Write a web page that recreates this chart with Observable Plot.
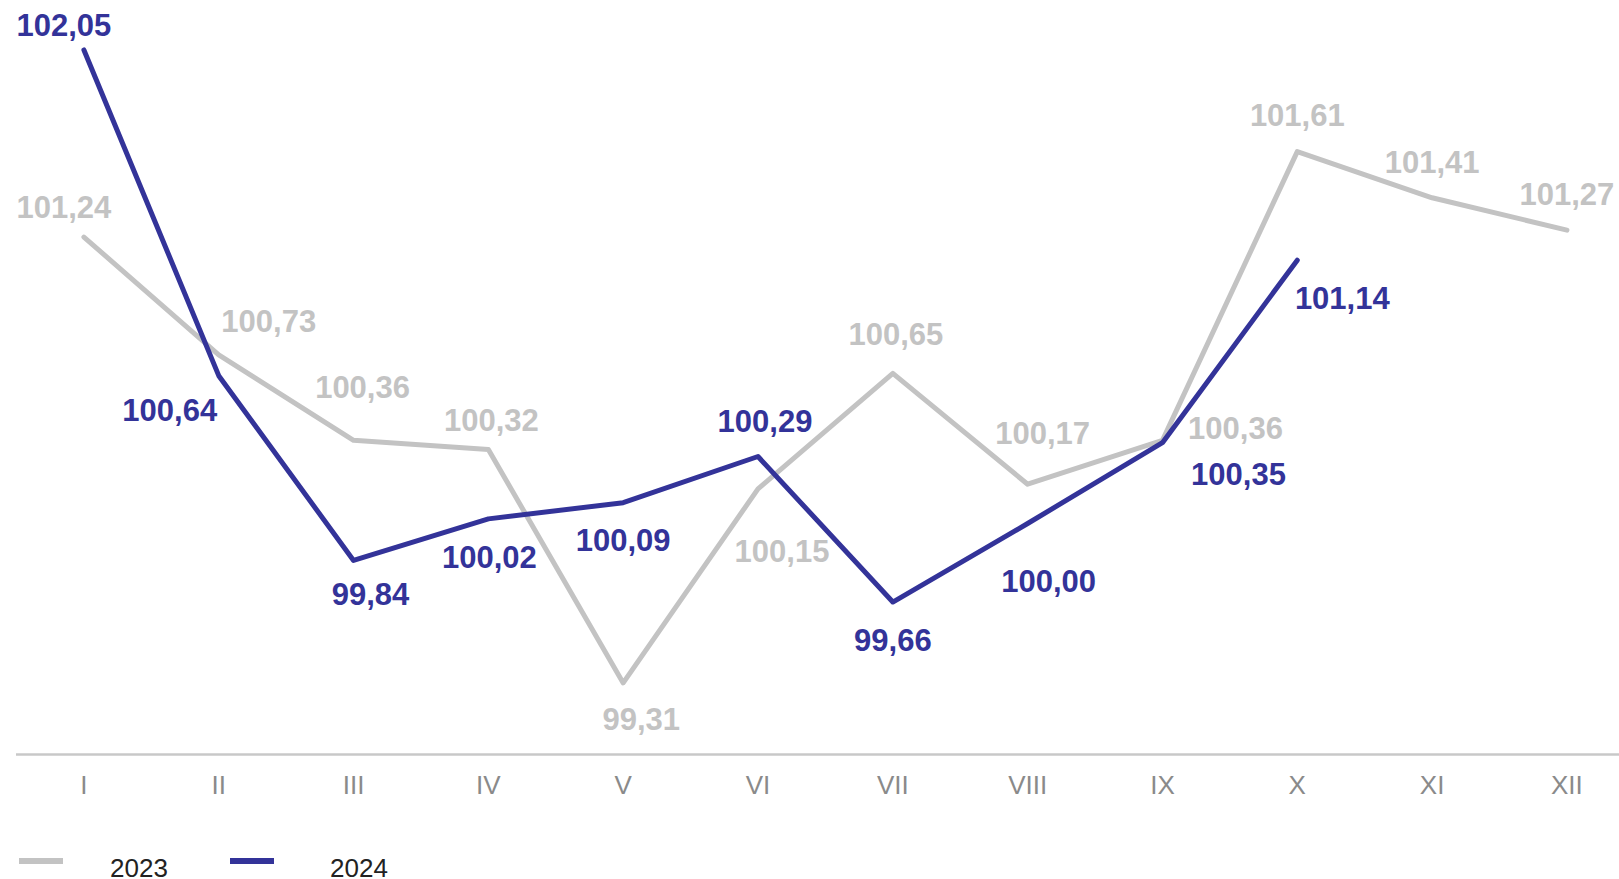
<!DOCTYPE html>
<html>
<head>
<meta charset="utf-8">
<script src="https://cdn.jsdelivr.net/npm/d3@7"></script>
<script src="https://cdn.jsdelivr.net/npm/@observablehq/plot@0.6"></script>
<style>
  html, body { margin: 0; padding: 0; background: #fff; }
  body { font-family: "Liberation Sans", Arial, sans-serif; }
  #wrap { position: relative; width: 1619px; height: 879px; overflow: hidden; }
  #chart svg { display: block; }
  .legend-swatch { position: absolute; height: 6px; width: 44px; }
  .legend-text { position: absolute; font-size: 26px; color: #222; line-height: 26px; }
</style>
</head>
<body>
<div id="wrap">
  <div id="chart"></div>
  <div class="legend-swatch" style="left:19px; top:858px; background:#c3c3c3;"></div>
  <div class="legend-text" style="left:110px; top:855px;">2023</div>
  <div class="legend-swatch" style="left:230px; top:858px; background:#333399;"></div>
  <div class="legend-text" style="left:330px; top:855px;">2024</div>
</div>
<script>
const months = ["I","II","III","IV","V","VI","VII","VIII","IX","X","XI","XII"];
const values2023 = [101.24, 100.73, 100.36, 100.32, 99.31, 100.15, 100.65, 100.17, 100.36, 101.61, 101.41, 101.27];
const values2024 = [102.05, 100.64, 99.84, 100.02, 100.09, 100.29, 99.66, 100.00, 100.35, 101.14];

// label offsets (px) relative to each point
const labelDx2023 = [-20, 50, 9, 3, 18, 24, 3, 15, 73, 0, 0, 0];
const labelDy2023 = [-29, -33, -52, -28, 37, 63, -38, -50, -11, -35, -35, -35];
const labelDx2024 = [-20, -49, 17, 1, 0, 7, 0, 21, 76, 45];
const labelDy2024 = [-24, 35, 35, 39, 38, -34, 39, 59, 32, 39];

const gray = "#c3c3c3";
const blue = "#333399";

const s2023 = values2023.map((v, i) => ({i, v}));
const s2024 = values2024.map((v, i) => ({i, v}));
const fmt = v => v.toFixed(2).replace(".", ",");

const labelMarks = (series, color, dxs, dys) => series.map((d, k) =>
  Plot.text([d], {
    x: "i", y: "v", text: r => fmt(r.v),
    dx: dxs[k], dy: dys[k],
    fill: color, fontSize: 31, fontWeight: "bold",
    fontFamily: "Liberation Sans, Arial, sans-serif"
  })
);

const chart = Plot.plot({
  width: 1619,
  height: 800,
  marginTop: 0,
  marginBottom: 46,
  marginLeft: 16,
  marginRight: 0,
  style: { fontFamily: "Liberation Sans, Arial, sans-serif", background: "transparent" },
  x: { type: "linear", domain: [-0.5, 11.39], axis: null, label: null },
  y: { domain: [99, 102.264], axis: null, label: null },
  marks: [
    Plot.ruleY([99], { stroke: "#c8c8c8", strokeWidth: 2.5 }),
    Plot.axisX(d3.range(months.length), {
      tickSize: 0, tickPadding: 21, tickFormat: i => months[i],
      fontSize: 26, color: "#8a8a8a", label: null
    }),
    Plot.line(s2023, { x: "i", y: "v", stroke: gray, strokeWidth: 5, strokeLinecap: "round", strokeLinejoin: "round" }),
    Plot.line(s2024, { x: "i", y: "v", stroke: blue, strokeWidth: 5, strokeLinecap: "round", strokeLinejoin: "round" }),
    ...labelMarks(s2023, gray, labelDx2023, labelDy2023),
    ...labelMarks(s2024, blue, labelDx2024, labelDy2024)
  ]
});
document.getElementById("chart").appendChild(chart);
</script>
</body>
</html>
